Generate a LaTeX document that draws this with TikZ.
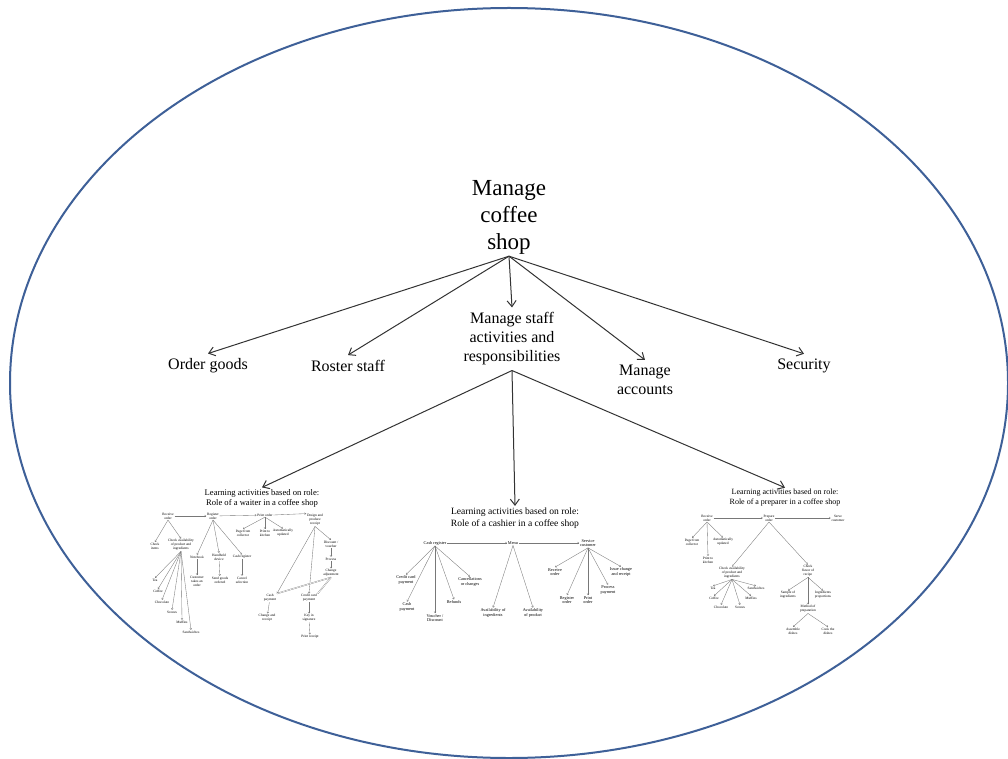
\documentclass[tikz,border=0pt]{standalone}
\usepackage{fontspec}
\setmainfont{Liberation Serif}
\usetikzlibrary{arrows.meta}
\definecolor{ellcol}{RGB}{62,96,152}
\definecolor{subcol}{RGB}{120,120,120}
\tikzset{
 big/.style={font=\fontsize{23}{27}\selectfont, align=center, inner sep=2pt},
 lvl/.style={font=\fontsize{16}{19}\selectfont, align=center, inner sep=5pt},
 hdrL/.style={font=\fontsize{8.6}{10}\selectfont, align=center, inner sep=1.5pt},
 hdrM/.style={font=\fontsize{9.6}{12}\selectfont, align=center, inner sep=1.5pt},
 hdrR/.style={font=\fontsize{8}{10}\selectfont, align=center, inner sep=1.5pt},
 sm/.style={font=\fontsize{3.5}{3.9}\selectfont, align=center, inner sep=0.7pt},
 smm/.style={font=\fontsize{4.3}{4.8}\selectfont, align=center, inner sep=0.8pt},
 mainarr/.style={draw=black!80, line width=1pt, -{Straight Barb[length=6pt,width=9pt]}},
 subarr/.style={draw=subcol, line width=0.35pt, -{Straight Barb[length=1.4pt,width=2pt]}},
 dblline/.style={draw=subcol, line width=0.3pt, double=white, double distance=0.6pt},
}
\begin{document}
\begin{tikzpicture}[x=1pt,y=-1pt]
\useasboundingbox (0,0) rectangle (1008,759);
\fill[white] (0,0) rectangle (1008,759);
\draw[ellcol, line width=2pt] (509,383) ellipse [x radius=499pt, y radius=375pt];

% top levels
\node[big] (top) at (509,217) {Manage\\coffee\\shop};
\node[lvl] (og) at (208,366) {Order goods};
\node[lvl] (rs) at (348,366) {Roster staff};
\node[lvl] (ms) at (512,339) {Manage staff\\activities and\\responsibilities};
\node[lvl] (ma) at (645,380) {Manage\\accounts};
\node[lvl] (se) at (804,366) {Security};
\foreach \c in {og,rs,ms,ma,se} \draw[mainarr] (top.south) -- (\c.north);

\node[hdrL] (hL) at (262,498) {Learning activities based on role:\\Role of a waiter in a coffee shop};
\node[hdrM] (hM) at (515,518) {Learning activities based on role:\\Role of a cashier in a coffee shop};
\node[hdrR] (hR) at (785,498) {Learning activities based on role:\\Role of a preparer in a coffee shop};
\foreach \c in {hL,hM,hR} \draw[mainarr] (ms.south) -- (\c.north);

% ---------- waiter ----------
\begin{scope}[every node/.style={sm}]
\node (L1) at (168,516) {Receive\\order};
\node (L2) at (213,516) {Register\\order};
\node (L3) at (265,515) {Print order};
\node (L4) at (315,520) {Design and\\produce\\receipt};
\draw[subarr] (L1) -- (L2);
\draw[subarr] (L2) -- (L3);
\draw[subarr] (L3.east) -- (L4.north west);
\node (L1a) at (155,546) {Check\\items};
\node (L1b) at (181,545) {Check availability\\of product and\\ingredients};
\draw[subarr] (L1.south) -- (L1a.north);
\draw[subarr] (L1.south) -- (L1b.north);
\node (Lt1) at (155,580) {Tea};
\node (Lt2) at (158,591) {Coffee};
\node (Lt3) at (162,602) {Chocolate};
\node (Lt4) at (172,612) {Scones};
\node (Lt5) at (182,622) {Muffins};
\node (Lt6) at (191,632) {Sandwiches};
\foreach \c in {Lt1,Lt2,Lt3,Lt4,Lt5,Lt6} \draw[subarr] (L1b.south) -- (\c.north);
\node (L2a) at (197,557) {Notebook};
\node (L2b) at (219,557) {Handheld\\device};
\node (L2c) at (242,557) {Cash register};
\foreach \c in {L2a,L2b,L2c} \draw[subarr] (L2.south) -- (\c.north);
\node (L2a2) at (197,581) {Customer\\takes an\\order};
\node (L2b2) at (220,580) {Send goods\\ordered};
\node (L2c2) at (242,580) {Cancel\\selection};
\draw[subarr] (L2a) -- (L2a2);
\draw[subarr] (L2b) -- (L2b2);
\draw[subarr] (L2c) -- (L2c2);
\node (L3a) at (243,533) {Page from\\collector};
\node (L3b) at (265,533) {Print to\\kitchen};
\node (L3c) at (283,533) {Automatically\\updated};
\foreach \c in {L3a,L3b,L3c} \draw[subarr] (L3.south) -- (\c.north);
\node (L4a) at (331,544) {Discount /\\voucher};
\node (L4a2) at (331,559) {Process};
\node (L4a3) at (331,573) {Change\\adjustment};
\draw[subarr] (L4.south) -- (L4a.north);
\draw[subarr] (L4a) -- (L4a2);
\draw[subarr] (L4a2) -- (L4a3);
\node (L4b) at (270,598) {Cash\\payment};
\node (L4c) at (309,598) {Credit card\\payment};
\draw[subarr] (L4.south) -- (L4b.north east);
\draw[subarr] (L4.south) -- (L4c.north);
\draw[dblline] (L4a3.south) -- (L4b.north east);
\draw[dblline] (L4a3.south) -- (L4c.north east);
\node (L4b2) at (267,618) {Change and\\receipt};
\node (L4c2) at (309,618) {Key in\\signature};
\node (L4c3) at (310,637) {Print receipt};
\draw[subarr] (L4b) -- (L4b2);
\draw[subarr] (L4c) -- (L4c2);
\draw[subarr] (L4c2) -- (L4c3);
\end{scope}

% ---------- cashier ----------
\begin{scope}[every node/.style={smm}]
\node (M1) at (435,543) {Cash register};
\node (M2) at (513,543) {Menu};
\node (M3) at (588,543) {Service\\customer};
\draw[subarr] (M1) -- (M2);
\draw[subarr] (M2) -- (M3);
\node (M1a) at (406,580) {Credit card\\payment};
\node (M1b) at (407,607) {Cash\\payment};
\node (M1c) at (435,618) {Voucher /\\Discount};
\node (M1d) at (454,602) {Refunds};
\node (M1e) at (470,582) {Cancellations\\or changes};
\foreach \c in {M1a,M1b,M1c,M1d,M1e} \draw[subarr] (M1.south) -- (\c.north);
\node (M2a) at (493,613) {Availability of\\ingredients};
\node (M2b) at (533,613) {Availability\\of product};
\foreach \c in {M2a,M2b} \draw[subarr] (M2.south) -- (\c.north);
\node (M3a) at (555,572) {Receive\\order};
\node (M3b) at (567,600) {Register\\order};
\node (M3c) at (588,600) {Print\\order};
\node (M3d) at (608,590) {Process\\payment};
\node (M3e) at (621,572) {Issue change\\and receipt};
\foreach \c in {M3a,M3b,M3c,M3d,M3e} \draw[subarr] (M3.south) -- (\c.north);
\end{scope}

% ---------- preparer ----------
\begin{scope}[every node/.style={sm}]
\node (R1) at (707,518) {Receive\\order};
\node (R2) at (769,518) {Prepare\\order};
\node (R3) at (838,518) {Serve\\customer};
\draw[subarr] (R1) -- (R2);
\draw[subarr] (R2) -- (R3);
\node (R1a) at (692,542) {Page from\\collector};
\node (R1b) at (708,560) {Print to\\kitchen};
\node (R1c) at (723,542) {Automatically\\updated};
\foreach \c in {R1a,R1b,R1c} \draw[subarr] (R1.south) -- (\c.north);
\node (R2a) at (732,573) {Check availability\\of product and\\ingredients};
\node (R2b) at (808,571) {Check\\flavor of\\recipe};
\foreach \c in {R2a,R2b} \draw[subarr] (R2.south) -- (\c.north);
\node (Rt1) at (713,588) {Tea};
\node (Rt2) at (714,598) {Coffee};
\node (Rt3) at (721,607) {Chocolate};
\node (Rt4) at (740,607) {Scones};
\node (Rt5) at (751,598) {Muffins};
\node (Rt6) at (756,588) {Sandwiches};
\foreach \c in {Rt1,Rt2,Rt3,Rt4,Rt5,Rt6} \draw[subarr] (R2a.south) -- (\c.north);
\node (R2b1) at (788,595) {Sample of\\ingredients};
\node (R2b2) at (823,595) {Ingredients\\proportions};
\node (R2b3) at (808,609) {Method of\\preparation};
\foreach \c in {R2b1,R2b2,R2b3} \draw[subarr] (R2b.south) -- (\c.north);
\node (R2b3a) at (793,631) {Assemble\\dishes};
\node (R2b3b) at (828,631) {Cook the\\dishes};
\foreach \c in {R2b3a,R2b3b} \draw[subarr] (R2b3.south) -- (\c.north);
\end{scope}
\end{tikzpicture}
\end{document}
